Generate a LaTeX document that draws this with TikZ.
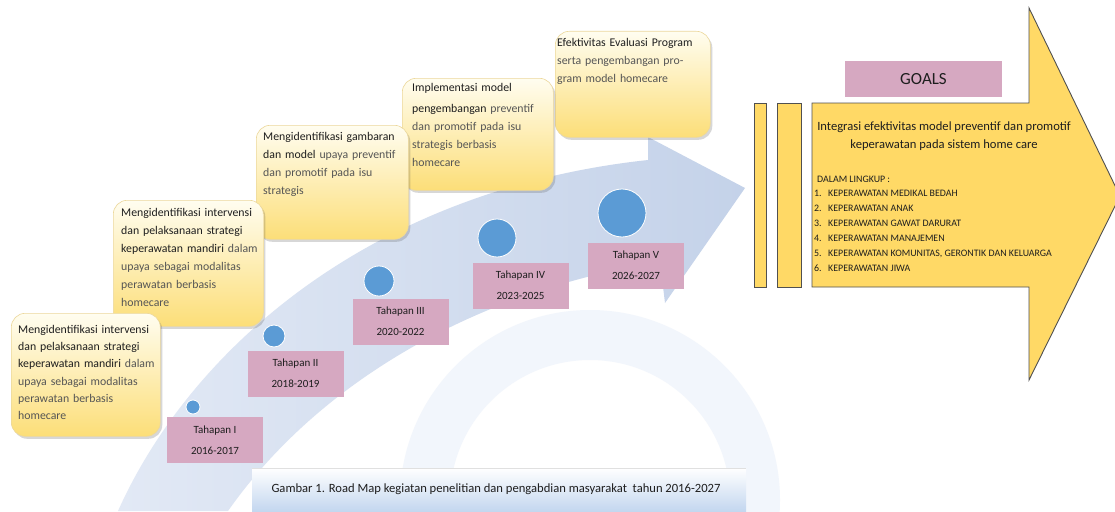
\documentclass[tikz,border=0pt]{standalone}
\usepackage{fontspec}
\setmainfont{Carlito}
\usetikzlibrary{shadows}
\definecolor{pinkbox}{RGB}{214,168,193}
\definecolor{bluedot}{RGB}{91,155,213}
\definecolor{gold}{RGB}{255,217,102}
\definecolor{dk}{RGB}{30,30,30}
\definecolor{lt}{RGB}{85,85,85}
\definecolor{creamtop}{RGB}{255,253,240}
\definecolor{yelbot}{RGB}{252,222,120}
\definecolor{bandA}{RGB}{226,233,245}
\definecolor{bandB}{RGB}{196,210,233}
\definecolor{capblue}{RGB}{190,211,238}
\definecolor{ybord}{RGB}{236,216,156}
\definecolor{wmk}{RGB}{242,246,252}
\definecolor{arrowline}{RGB}{80,80,80}
\begin{document}
\begin{tikzpicture}[x=1pt,y=-1pt,
  ybox/.style={rectangle, rounded corners=14pt, top color=creamtop, bottom color=yelbot,
    draw=ybord, line width=0.6pt, anchor=north west, inner sep=0pt,
    drop shadow={shadow xshift=2pt, shadow yshift=-2.5pt, opacity=0.22, fill=black!70}},
  ytext/.style={anchor=north west, inner sep=0pt, text width=170pt, align=left,
    font=\fontsize{11.8}{18}\selectfont, text=lt},
  tbox/.style={rectangle, fill=pinkbox, minimum width=96pt, minimum height=46pt,
    inner sep=0pt, align=center, font=\fontsize{11}{21}\selectfont, text=dk},
  dot/.style={circle, fill=bluedot, draw=white, line width=0.8pt, inner sep=0pt},
  gbar/.style={fill=gold, draw=arrowline, line width=0.9pt}
]
\useasboundingbox (0,0) rectangle (1115,511);
\clip (0,0) rectangle (1115,511);
\fill[white] (0,0) rectangle (1115,511);

% faint watermark
\fill[wmk, even odd rule] (590,500) circle (190pt) (590,500) circle (140pt);

% big curved band arrow
\path[shade, left color=bandA, right color=bandB]
  (118,511) .. controls (190,350) and (370,190) .. (648,160)
  -- (648,137) -- (745,188) -- (665,303) -- (660,262)
  .. controls (480,290) and (320,380) .. (228,511) -- cycle;

% yellow text boxes (back to front)
\node[ybox, minimum width=155pt, minimum height=106pt] (b5) at (555,31) {};
\node[ytext] (b5t) at (557,38) {\textcolor{dk}{Efektivitas Evaluasi Program}\\
  serta pengembangan pro-\\ gram model homecare};

\node[ybox, minimum width=151pt, minimum height=112pt] (b4) at (402,78) {};
\node[ytext] (b4t) at (412,83) {\textcolor{dk}{Implementasi model}\\[3pt]
  \textcolor{dk}{pengembangan} preventif\\ dan promotif pada isu\\ strategis berbasis\\ homecare};

\node[ybox, minimum width=152pt, minimum height=114pt] (b3) at (256,125) {};
\node[ytext] (b3t) at (263,132) {\textcolor{dk}{Mengidentifikasi gambaran}\\
  \textcolor{dk}{dan model} upaya preventif\\ dan promotif pada isu\\ strategis};

\node[ybox, minimum width=150pt, minimum height=126pt] (b2) at (113,200) {};
\node[ytext] (b2t) at (121,208) {\textcolor{dk}{Mengidentifikasi intervensi}\\
  \textcolor{dk}{dan pelaksanaan strategi}\\ \textcolor{dk}{keperawatan mandiri} dalam\\
  upaya sebagai modalitas\\ perawatan berbasis\\ homecare};

\node[ybox, minimum width=149pt, minimum height=123pt] (b1) at (11,313) {};
\node[ytext, font=\fontsize{11.8}{17.3}\selectfont] (b1t) at (18,325) {\textcolor{dk}{Mengidentifikasi intervensi}\\
  \textcolor{dk}{dan pelaksanaan strategi}\\ \textcolor{dk}{keperawatan mandiri} dalam\\
  upaya sebagai modalitas\\ perawatan berbasis\\ homecare};

% stage dots
\node[dot, minimum size=14pt] (c1) at (193,407) {};
\node[dot, minimum size=22pt] (c2) at (274,336) {};
\node[dot, minimum size=30pt] (c3) at (379,281) {};
\node[dot, minimum size=38pt] (c4) at (497,238) {};
\node[dot, minimum size=48pt] (c5) at (622,213) {};

% stage labels
\node[tbox] (t1) at (215,440) {Tahapan I\\2016-2017};
\node[tbox] (t2) at (295.5,373.5) {Tahapan II\\2018-2019};
\node[tbox] (t3) at (400.5,321.5) {Tahapan III\\2020-2022};
\node[tbox] (t4) at (520.5,285.5) {Tahapan IV\\2023-2025};
\node[tbox] (t5) at (636,265.5) {Tahapan V\\2026-2027};

% caption
\fill[top color=white, bottom color=capblue] (252,468) rectangle (746,515);
\draw[black!12, line width=0.6pt] (252,468) -- (746,468);
\node[font=\fontsize{12.6}{14}\selectfont, text=dk, inner sep=0pt] (cap) at (496,489)
  {Gambar 1. Road Map kegiatan penelitian dan pengabdian masyarakat \ tahun 2016-2027};

% goals arrow
\draw[gbar] (754,103) rectangle (766,287);
\draw[gbar] (777,103) rectangle (801,287);
\draw[gbar, line join=miter] (812,103) -- (1029,103) -- (1029,8) -- (1120,196)
  -- (1029,380) -- (1029,287) -- (812,287) -- cycle;
\node[rectangle, fill=pinkbox, minimum width=157pt, minimum height=36pt, inner sep=0pt,
  font=\fontsize{17}{20}\selectfont, text=dk] (goals) at (923.5,79) {GOALS};
\node[align=center, inner sep=0pt, font=\fontsize{12.6}{18}\selectfont, text=dk] (gtxt) at (944,136)
  {Integrasi efektivitas model preventif dan promotif\\ keperawatan pada sistem home care};
\node[anchor=north west, align=left, inner sep=0pt, font=\fontsize{9.9}{15}\selectfont, text=dk] (glist) at (814,175.5)
  {\hspace{3pt}DALAM LINGKUP :\\[-1pt]
   \makebox[14pt][l]{1.}KEPERAWATAN MEDIKAL BEDAH\\
   \makebox[14pt][l]{2.}KEPERAWATAN ANAK\\
   \makebox[14pt][l]{3.}KEPERAWATAN GAWAT DARURAT\\
   \makebox[14pt][l]{4.}KEPERAWATAN MANAJEMEN\\
   \makebox[14pt][l]{5.}KEPERAWATAN KOMUNITAS, GERONTIK DAN KELUARGA\\
   \makebox[14pt][l]{6.}KEPERAWATAN JIWA};
\end{tikzpicture}
\end{document}
